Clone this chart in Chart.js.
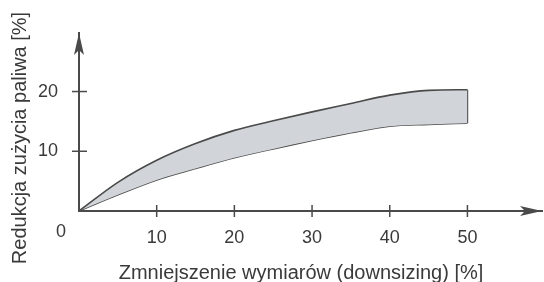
<!DOCTYPE html>
<html lang="pl">
<head>
  <meta charset="UTF-8" />
  <title>Downsizing</title>
  <script src="https://cdn.jsdelivr.net/npm/chart.js"></script>
  <style>
    * { margin: 0; padding: 0; box-sizing: border-box; }
    body { background: #fff; }
    #wrap { width: 544px; height: 282px; }
  </style>
</head>
<body>
  <div id="wrap"><canvas id="chart"></canvas></div>

  <script>
    const downsizing = [0, 5, 10, 15, 20, 25, 30, 35, 40, 45, 50];
    const upperBound = [0, 4.8, 8.5, 11.3, 13.5, 15.1, 16.6, 18.0, 19.4, 20.2, 20.3];
    const lowerBound = [0, 2.7, 5.2, 7.1, 8.9, 10.4, 11.8, 13.1, 14.2, 14.5, 14.7];
    const xTicks = [10, 20, 30, 40, 50];
    const yTicks = [10, 20];
    const xTitle = 'Zmniejszenie wymiarów (downsizing) [%]';
    const yTitle = 'Redukcja zużycia paliwa [%]';

    const axisColor = '#4a4a4a';
    const textColor = '#3a3a3a';
    const font = 'Liberation Sans, Arial, sans-serif';

    const pts = ys => downsizing.map((x, i) => ({ x: x, y: ys[i] }));
    const last = downsizing.length - 1;

    // strzalki, kreski podzialki, tytuly osi
    const axesPlugin = {
      id: 'axesPlugin',
      afterDraw(chart) {
        const { ctx, chartArea: a, scales: { x, y } } = chart;
        const x0 = x.getPixelForValue(0);
        const y0 = y.getPixelForValue(0);
        ctx.save();
        ctx.strokeStyle = axisColor;
        ctx.fillStyle = axisColor;
        ctx.lineWidth = 1.5;
        xTicks.forEach(v => {
          const px = x.getPixelForValue(v);
          ctx.beginPath(); ctx.moveTo(px, y0 - 6); ctx.lineTo(px, y0 + 6); ctx.stroke();
        });
        yTicks.forEach(v => {
          const py = y.getPixelForValue(v);
          ctx.beginPath(); ctx.moveTo(x0 - 7, py); ctx.lineTo(x0 + 8, py); ctx.stroke();
        });
        // arrow on y
        ctx.beginPath();
        ctx.moveTo(x0, a.top);
        ctx.lineTo(x0 + 5, a.top + 22);
        ctx.lineTo(x0, a.top + 17);
        ctx.lineTo(x0 - 5, a.top + 22);
        ctx.closePath(); ctx.fill();
        // arrow on x
        ctx.beginPath();
        ctx.moveTo(a.right, y0);
        ctx.lineTo(a.right - 22, y0 - 5);
        ctx.lineTo(a.right - 17, y0);
        ctx.lineTo(a.right - 22, y0 + 5);
        ctx.closePath(); ctx.fill();

        ctx.fillStyle = textColor;
        ctx.textAlign = 'center';
        ctx.textBaseline = 'middle';
        ctx.font = '18px ' + font;
        ctx.fillText('0', 61, 232);
        ctx.font = '20px ' + font;
        ctx.fillText(xTitle, 301, 273);
        ctx.translate(20, 138);
        ctx.rotate(-Math.PI / 2);
        ctx.fillText(yTitle, 0, 0);
        ctx.restore();
      }
    };

    new Chart(document.getElementById('chart'), {
      type: 'line',
      data: {
        datasets: [
          {
            data: pts(upperBound),
            borderColor: axisColor,
            borderWidth: 1.6,
            backgroundColor: '#d1d4d8',
            fill: '+1',
            tension: 0.4,
            cubicInterpolationMode: 'monotone',
            pointRadius: 0
          },
          {
            data: pts(lowerBound),
            borderColor: axisColor,
            borderWidth: 1.6,
            fill: false,
            tension: 0.4,
            cubicInterpolationMode: 'monotone',
            pointRadius: 0
          },
          {
            data: [
              { x: downsizing[last], y: lowerBound[last] },
              { x: downsizing[last], y: upperBound[last] }
            ],
            borderColor: axisColor,
            borderWidth: 1.6,
            fill: false,
            pointRadius: 0
          }
        ]
      },
      options: {
        responsive: true,
        maintainAspectRatio: false,
        animation: false,
        layout: { padding: { top: 33, right: 2, left: 0, bottom: 0 } },
        plugins: { legend: { display: false }, tooltip: { enabled: false } },
        scales: {
          x: {
            type: 'linear',
            min: 0,
            max: 59.6,
            afterFit: s => { s.height = 71; },
            grid: { display: false, drawTicks: false },
            border: { display: true, color: axisColor, width: 2 },
            ticks: {
              stepSize: 10,
              includeBounds: false,
              padding: 16,
              color: textColor,
              font: { family: font, size: 18 },
              callback: v => (xTicks.includes(v) ? v : '')
            }
          },
          y: {
            min: 0,
            max: 29.8,
            afterFit: s => { s.width = 79; },
            grid: { display: false, drawTicks: false },
            border: { display: true, color: axisColor, width: 2 },
            ticks: {
              stepSize: 10,
              includeBounds: false,
              padding: 21,
              color: textColor,
              font: { family: font, size: 18 },
              callback: v => (yTicks.includes(v) ? v : '')
            }
          }
        }
      },
      plugins: [axesPlugin]
    });
  </script>
</body>
</html>
